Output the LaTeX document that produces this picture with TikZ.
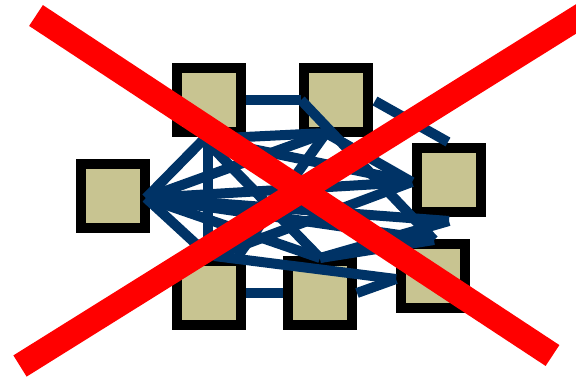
\documentclass[tikz,border=0pt]{standalone}
\definecolor{navy}{RGB}{0,51,102}
\definecolor{khaki}{RGB}{200,196,145}
\definecolor{xred}{RGB}{255,0,0}
\begin{document}
\begin{tikzpicture}[x=1pt,y=-1pt,
  box/.style={rectangle,draw=black,line width=10pt,fill=khaki,minimum width=64pt,minimum height=64pt,inner sep=0pt},
  link/.style={draw=navy,line width=10pt},
  cross/.style={draw=xred,line width=25pt}]
\useasboundingbox (0,0) rectangle (576,378);
\clip (0,0) rectangle (576,378);
% boxes
\node[box] (A) at (209,100) {};
\node[box] (B) at (336,100) {};
\node[box] (C) at (449,180) {};
\node[box] (D) at (113,196) {};
\node[box] (E) at (209,293) {};
\node[box] (F) at (320,293) {};
\node[box] (G) at (433,276) {};
% connection points
\coordinate (dh) at (146,198);
\coordinate (ab) at (204,139);
\coordinate (ae) at (208,137);
\coordinate (et) at (208,255);
\coordinate (el) at (214,256);
\coordinate (e2) at (238,256);
\coordinate (bl) at (301,100);
\coordinate (bb) at (326,133);
\coordinate (br) at (375,101);
\coordinate (ct) at (448,142);
\coordinate (cl) at (412,182);
\coordinate (cb) at (449,221);
\coordinate (gt) at (434,240);
\coordinate (ft) at (320,258);
\coordinate (gl) at (396,279);
% connectors
\draw[link] (A.east) -- (bl);
\draw[link] (bl) -- (gt);
\draw[link] (br) -- (ct);
\draw[link] (E.east) -- (F.west);
\draw[link] (F.east) -- (gl);
\draw[link] (el) -- (gl);
\draw[link] (dh) -- (ab);
\draw[link] (dh) -- (bb);
\draw[link] (dh) -- (cl);
\draw[link] (dh) -- (gt);
\draw[link] (dh) -- (cb);
\draw[link] (dh) -- (ft);
\draw[link] (dh) -- (et);
\draw[link] (ae) -- (et);
\draw[link] (ab) -- (ft);
\draw[link] (ab) -- (cl);
\draw[link] (ab) -- (bb);
\draw[link] (bb) -- (e2);
\draw[link] (bb) -- (cl);
\draw[link] (cl) -- (el);
\draw[link] (ft) -- (gt);
\draw[link] (ft) -- (cb);
% red cross
\coordinate (r1a) at (36,15.5);
\coordinate (r1b) at (552.5,355.5);
\coordinate (r2a) at (20,366);
\coordinate (r2b) at (600,4);
\draw[cross] (r1a) -- (r1b);
\draw[cross] (r2a) -- (r2b);
\end{tikzpicture}
\end{document}
